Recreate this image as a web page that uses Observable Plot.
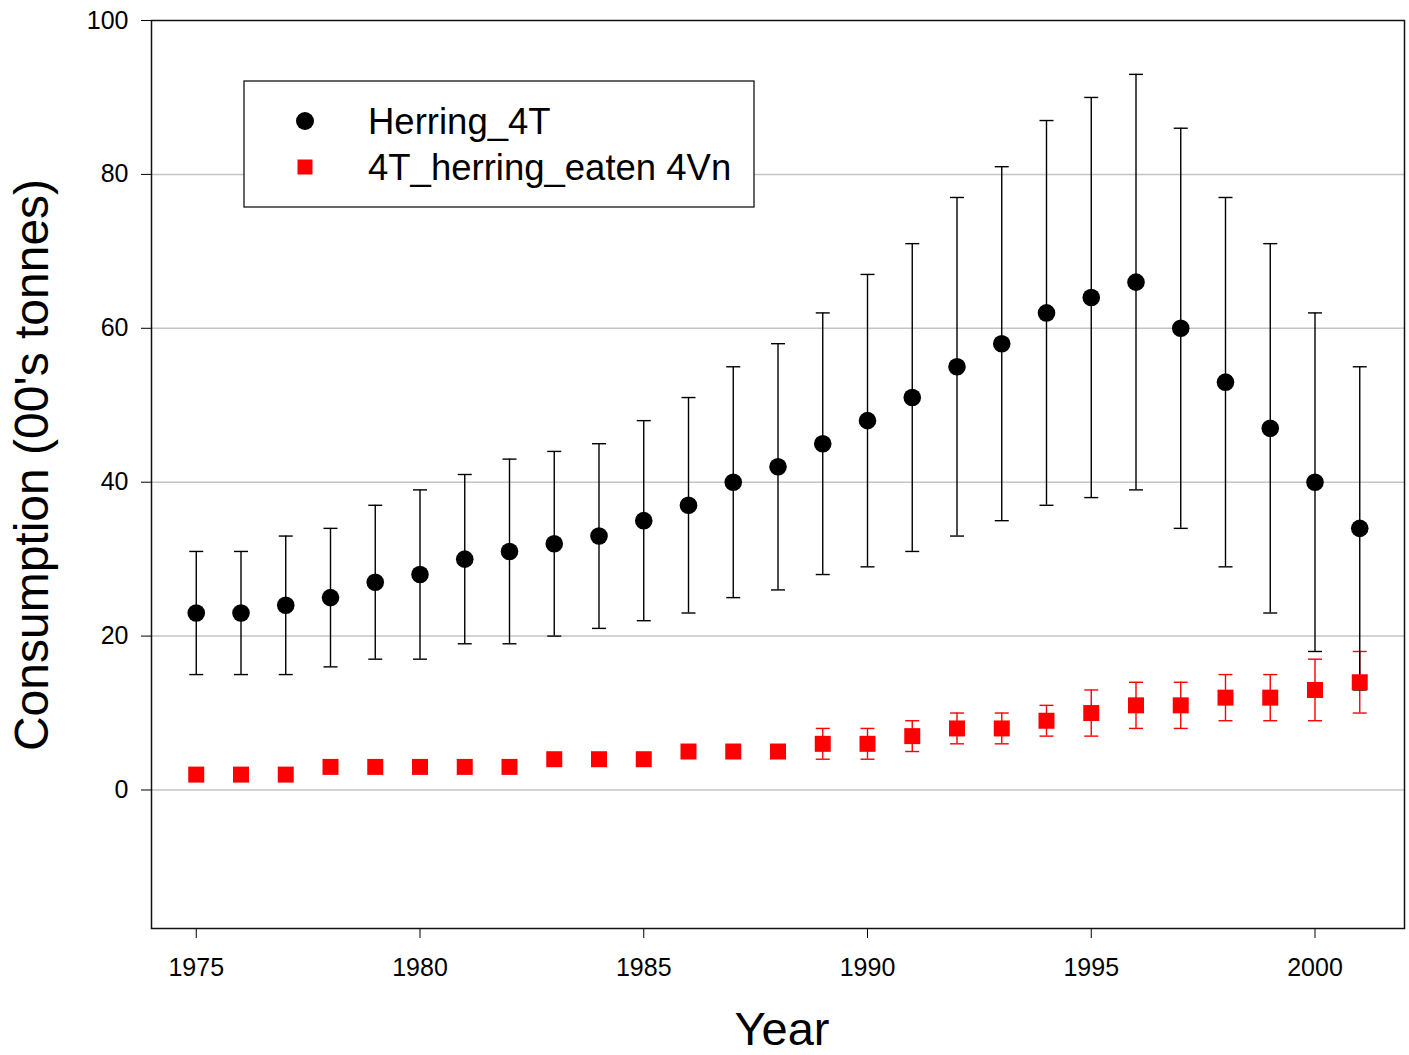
<!DOCTYPE html>
<html>
<head>
<meta charset="utf-8">
<script src="https://cdn.jsdelivr.net/npm/d3@7"></script>
<script src="https://cdn.jsdelivr.net/npm/@observablehq/plot@0.6"></script>
<style>
  html, body { margin: 0; padding: 0; background: #fff; }
  #chart { width: 1409px; height: 1055px; }
</style>
</head>
<body>
<div id="chart"></div>
<script>
// Annual consumption estimates, in hundreds of tonnes, with error bar bounds
const years = [1975, 1976, 1977, 1978, 1979, 1980, 1981, 1982, 1983, 1984, 1985, 1986, 1987, 1988,
               1989, 1990, 1991, 1992, 1993, 1994, 1995, 1996, 1997, 1998, 1999, 2000, 2001];

const herringMean = [23, 23, 24, 25, 27, 28, 30, 31, 32, 33, 35, 37, 40, 42,
                     45, 48, 51, 55, 58, 62, 64, 66, 60, 53, 47, 40, 34];
const herringLow  = [15, 15, 15, 16, 17, 17, 19, 19, 20, 21, 22, 23, 25, 26,
                     28, 29, 31, 33, 35, 37, 38, 39, 34, 29, 23, 18, 13];
const herringHigh = [31, 31, 33, 34, 37, 39, 41, 43, 44, 45, 48, 51, 55, 58,
                     62, 67, 71, 77, 81, 87, 90, 93, 86, 77, 71, 62, 55];

const eatenMean = [2, 2, 2, 3, 3, 3, 3, 3, 4, 4, 4, 5, 5, 5,
                   6, 6, 7, 8, 8, 9, 10, 11, 11, 12, 12, 13, 14];
const eatenLow  = [2, 2, 2, 3, 3, 3, 3, 3, 4, 4, 4, 5, 5, 5,
                   4, 4, 5, 6, 6, 7, 7, 8, 8, 9, 9, 9, 10];
const eatenHigh = [2, 2, 2, 3, 3, 3, 3, 3, 4, 4, 4, 5, 5, 5,
                   8, 8, 9, 10, 10, 11, 13, 14, 14, 15, 15, 17, 18];

const yTicks = [0, 20, 40, 60, 80, 100];
const gridValues = [0, 20, 40, 60, 80];
const xTicks = [1975, 1980, 1985, 1990, 1995, 2000];

const seriesNames = ["Herring_4T", "4T_herring_eaten 4Vn"];
const seriesColors = ["black", "red"];

const herring = years.map((year, i) => ({year, mean: herringMean[i], low: herringLow[i], high: herringHigh[i]}));
const eaten = years.map((year, i) => ({year, mean: eatenMean[i], low: eatenLow[i], high: eatenHigh[i]}));

// Horizontal cap drawn at each end of an error bar
const cap = {draw(context) { context.moveTo(-7, 0); context.lineTo(7, 0); }};
// Filled square marker of fixed side
const square = {draw(context) { context.rect(-8, -8, 16, 16); }};

const font = "'Liberation Sans', Arial, Helvetica, sans-serif";

const errorBars = (data, color) => [
  Plot.ruleX(data, {x: "year", y1: "low", y2: "high", stroke: color, strokeWidth: 1.4}),
  Plot.dot(data, {x: "year", y: "low", symbol: cap, stroke: color, strokeWidth: 1.4, fill: "none"}),
  Plot.dot(data, {x: "year", y: "high", symbol: cap, stroke: color, strokeWidth: 1.4, fill: "none"})
];

const chart = Plot.plot({
  width: 1409,
  height: 1055,
  marginLeft: 151,
  marginRight: 5,
  marginTop: 20,
  marginBottom: 127,
  style: {fontFamily: font, background: "white", color: "black"},
  x: {domain: [1974, 2002]},
  y: {domain: [-18, 100]},
  marks: [
    Plot.gridY(gridValues, {stroke: "#c4c4c4", strokeOpacity: 1, strokeWidth: 1.5}),
    ...errorBars(eaten, seriesColors[1]),
    ...errorBars(herring, seriesColors[0]),
    Plot.dot(herring, {x: "year", y: "mean", r: 8.8, fill: seriesColors[0], stroke: "none"}),
    Plot.dot(eaten, {x: "year", y: "mean", symbol: square, fill: seriesColors[1], stroke: "none"}),
    Plot.axisY(yTicks, {tickSize: 10, tickPadding: 13, fontSize: 25, label: null, stroke: "black"}),
    Plot.axisX(xTicks, {tickSize: 10, tickPadding: 20, fontSize: 25, label: null, tickFormat: d => String(d), stroke: "black"}),
    Plot.frame({stroke: "#111", strokeWidth: 1.5})
  ]
});

const svg = d3.select(chart);

// Axis titles
svg.append("text")
  .attr("transform", "translate(48,465) rotate(-90)")
  .attr("text-anchor", "middle")
  .attr("font-family", font)
  .attr("font-size", 48)
  .attr("fill", "black")
  .text("Consumption (00's tonnes)");

svg.append("text")
  .attr("x", 782)
  .attr("y", 1045)
  .attr("text-anchor", "middle")
  .attr("font-family", font)
  .attr("font-size", 47)
  .attr("fill", "black")
  .text("Year");

// Legend box
const legend = svg.append("g")
  .attr("font-family", font)
  .attr("font-size", 36.5)
  .attr("text-anchor", "start");
legend.append("rect")
  .attr("x", 244).attr("y", 81).attr("width", 510).attr("height", 126)
  .attr("fill", "white").attr("stroke", "black").attr("stroke-width", 1.2);
legend.append("circle")
  .attr("cx", 305).attr("cy", 121).attr("r", 9).attr("fill", seriesColors[0]);
legend.append("rect")
  .attr("x", 297.5).attr("y", 159.5).attr("width", 15).attr("height", 15).attr("fill", seriesColors[1]);
legend.append("text").attr("x", 368).attr("y", 134).attr("fill", "black").text(seriesNames[0]);
legend.append("text").attr("x", 368).attr("y", 180).attr("fill", "black").text(seriesNames[1]);

document.getElementById("chart").appendChild(chart);
</script>
</body>
</html>
